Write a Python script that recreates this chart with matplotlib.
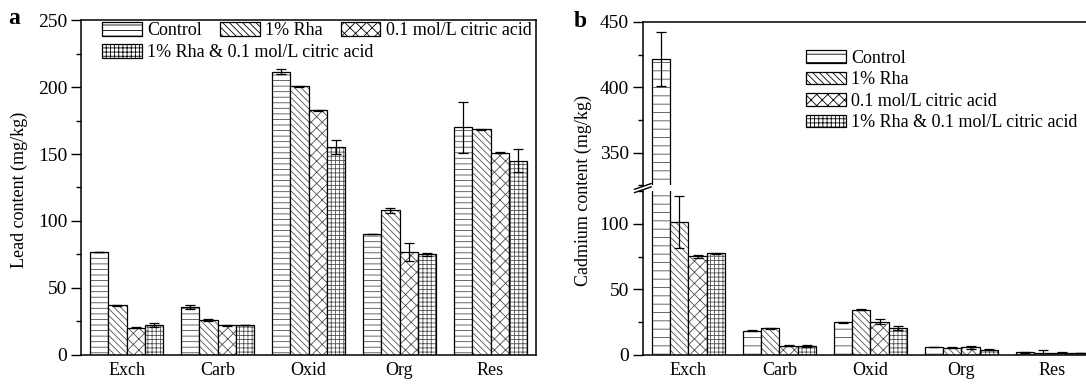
import matplotlib
matplotlib.use('Agg')
import matplotlib.pyplot as plt
import numpy as np
from matplotlib.ticker import MultipleLocator
from matplotlib.patches import Patch

plt.rcParams['font.family'] = ['Liberation Serif', 'DejaVu Serif']
plt.rcParams['hatch.linewidth'] = 0.6

fractions = ['Exch', 'Carb', 'Oxid', 'Org', 'Res']
treatments = ['Control', '1% Rha', '0.1 mol/L citric acid',
              '1% Rha & 0.1 mol/L citric acid']

# Lead (mg/kg)
lead_control = [76.5, 36.0, 211.5, 90.5, 170.0]
lead_rha = [37.0, 26.0, 200.5, 108.0, 168.5]
lead_citric = [20.5, 22.0, 182.5, 77.0, 151.0]
lead_combo = [22.5, 22.5, 155.0, 75.0, 145.0]
lead_control_err = [0.0, 1.5, 1.7, 0.0, 19.0]
lead_rha_err = [0.5, 0.5, 0.5, 2.0, 0.5]
lead_citric_err = [0.4, 0.6, 0.7, 6.8, 0.5]
lead_combo_err = [1.5, 0.0, 5.2, 1.4, 8.5]

# Cadmium (mg/kg)
cd_control = [421.5, 18.4, 25.0, 6.0, 2.0]
cd_rha = [101.5, 20.3, 34.3, 5.6, 1.5]
cd_citric = [75.3, 7.0, 25.3, 5.7, 1.8]
cd_combo = [77.6, 6.8, 20.8, 4.0, 1.5]
cd_control_err = [20.5, 0.3, 0.4, 0.3, 0.2]
cd_rha_err = [20.0, 0.2, 0.4, 0.2, 2.0]
cd_citric_err = [1.2, 0.3, 1.8, 0.8, 0.4]
cd_combo_err = [0.4, 0.5, 1.6, 0.4, 0.3]

hatches_a = ['---', '\\\\\\\\\\', 'xxx', '++++']
hatches_b = ['--', '\\\\\\\\\\', 'xxx', '++++']
W = 0.2
FS = 13
TFS = 14

lead_vals = [lead_control, lead_rha, lead_citric, lead_combo]
lead_errs = [lead_control_err, lead_rha_err, lead_citric_err, lead_combo_err]
cd_vals = [cd_control, cd_rha, cd_citric, cd_combo]
cd_errs = [cd_control_err, cd_rha_err, cd_citric_err, cd_combo_err]


def draw_bars(ax, vals, errs, hatches):
    x0 = np.arange(len(fractions))
    for i, (v, e, h) in enumerate(zip(vals, errs, hatches)):
        x = x0 + (i - 1.5) * W
        ax.bar(x, v, W, color='white', edgecolor='#505050', hatch=h, linewidth=0)
        ax.bar(x, v, W, fill=False, edgecolor='black', linewidth=0.9)
        ax.errorbar(x, v, yerr=e, fmt='none', ecolor='black', elinewidth=0.9,
                    capsize=3.5, capthick=0.9)
    ax.set_xlim(-0.5, len(fractions) - 0.5)


def style_y(ax, major, minor):
    ax.yaxis.set_major_locator(MultipleLocator(major))
    ax.yaxis.set_minor_locator(MultipleLocator(minor))
    ax.tick_params(axis='y', which='major', direction='out', length=7, width=1,
                   labelsize=TFS, pad=3)
    ax.tick_params(axis='y', which='minor', direction='out', length=3.5, width=1)
    ax.tick_params(axis='y', right=False, which='both')


fig = plt.figure(figsize=(10.86, 3.85), dpi=100)

# ---- panel a ----
axa = fig.add_axes([0.0746, 0.078, 0.419, 0.870])
draw_bars(axa, lead_vals, lead_errs, hatches_a)
axa.set_ylim(0, 250)
style_y(axa, 50, 25)
axa.set_xticks(np.arange(len(fractions)))
axa.set_xticklabels(fractions, fontsize=FS)
axa.tick_params(axis='x', length=0, pad=5)
for s in axa.spines.values():
    s.set_linewidth(1.1)

handles = [Patch(facecolor='white', edgecolor='black', hatch=h, linewidth=0.9)
           for h in hatches_a]
leg_kw = dict(frameon=False, handlelength=2.2, handleheight=0.8, handletextpad=0.3,
              columnspacing=1.0, fontsize=FS, borderaxespad=0, borderpad=0,
              loc='upper left')
leg1 = axa.legend(handles[:3], treatments[:3], ncol=3, bbox_to_anchor=(0.046, 0.995), **leg_kw)
axa.add_artist(leg1)
axa.legend(handles[3:], treatments[3:], bbox_to_anchor=(0.046, 0.928), **leg_kw)

fig.text(0.018, 0.506, 'Lead content (mg/kg)', rotation=90, ha='center', va='center',
         fontsize=FS)
fig.text(0.008, 0.952, 'a', fontsize=17, fontweight='bold', va='center')

# ---- panel b (broken axis) ----
axb_lo = fig.add_axes([0.592, 0.078, 0.419, 0.426])
axb_hi = fig.add_axes([0.592, 0.519, 0.419, 0.424])
for ax in (axb_lo, axb_hi):
    draw_bars(ax, cd_vals, cd_errs, hatches_b)
    for s in ax.spines.values():
        s.set_linewidth(1.1)
axb_lo.set_ylim(0, 125)
axb_hi.set_ylim(325, 450)
style_y(axb_lo, 50, 25)
style_y(axb_hi, 50, 25)
axb_lo.spines['top'].set_visible(False)
axb_hi.spines['bottom'].set_visible(False)
axb_lo.set_xticks(np.arange(len(fractions)))
axb_lo.set_xticklabels(fractions, fontsize=FS)
axb_lo.tick_params(axis='x', length=0, pad=5)
axb_hi.set_xticks([])

# break marks
d = 0.014
kw = dict(color='black', linewidth=1.0, clip_on=False)
axb_hi.plot([-d * 1.3, d * 1.3], [-0.025, 0.010], transform=axb_hi.transAxes, **kw)
axb_lo.plot([-d * 1.3, d * 1.3], [0.990, 1.025], transform=axb_lo.transAxes, **kw)

handles_b = [Patch(facecolor='white', edgecolor='black', hatch=h, linewidth=0.9)
             for h in hatches_b]
legb_kw = dict(frameon=False, handlelength=2.2, handleheight=0.7, handletextpad=0.3,
               labelspacing=0.25, fontsize=FS, borderaxespad=0, borderpad=0,
               loc='upper left')
axb_hi.legend(handles_b, treatments, bbox_to_anchor=(0.358, 0.83), **legb_kw)

fig.text(0.537, 0.506, 'Cadmium content (mg/kg)', rotation=90, ha='center', va='center',
         fontsize=FS)
fig.text(0.528, 0.945, 'b', fontsize=17, fontweight='bold', va='center')

fig.savefig('out.png', dpi=100)
